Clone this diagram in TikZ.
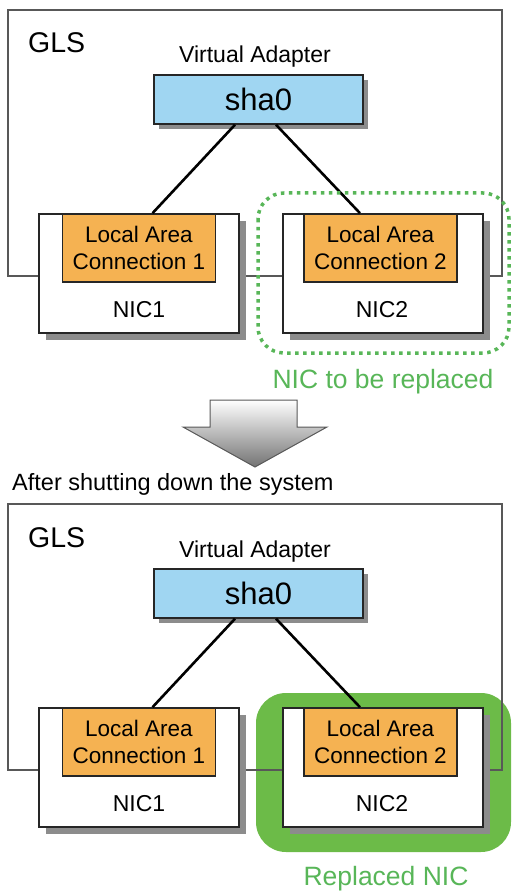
\documentclass[tikz,border=0pt]{standalone}
\usepackage{fontspec}
\setmainfont{Liberation Sans}
\usepackage{xcolor}
\usetikzlibrary{calc,positioning,shadows}
\definecolor{vablue}{RGB}{160,214,242}
\definecolor{lacorange}{RGB}{245,178,82}
\definecolor{nicgreen}{RGB}{108,187,72}
\definecolor{txtgreen}{RGB}{88,182,88}
\definecolor{boxgray}{RGB}{88,88,88}
\definecolor{shadowgray}{RGB}{140,140,140}
\newcommand{\fs}[1]{\fontsize{#1}{#1}\selectfont}

\tikzset{
  glsbox/.style={draw=boxgray,line width=1.5pt},
  vabox/.style={draw=black!85,line width=1.5pt,fill=vablue,minimum width=209pt,minimum height=49pt,inner sep=0pt,font=\fs{31},
    drop shadow={shadow xshift=5pt,shadow yshift=-5pt,fill=shadowgray,opacity=1}},
  nicbox/.style={draw=black!85,line width=1.6pt,fill=white,minimum width=200pt,minimum height=119pt,inner sep=0pt,
    drop shadow={shadow xshift=7pt,shadow yshift=-7pt,fill=shadowgray,opacity=1}},
  lacbox/.style={draw=black!85,line width=1.4pt,fill=lacorange,minimum width=153pt,minimum height=68pt,inner sep=0pt,
    align=center,font=\fontsize{22.5}{27}\selectfont},
  link/.style={line width=2.6pt},
  lbl/.style={inner sep=0pt,anchor=base}
}

\begin{document}
\begin{tikzpicture}[x=1pt,y=-1pt]
\useasboundingbox (0,0) rectangle (512,893);

% replaced NIC, drawn below the boxes
\fill[nicgreen,rounded corners=30pt] (256,693) rectangle (511,852);

\foreach \p/\dy in {a/0,b/494}{
\begin{scope}[yshift=-\dy pt]
\draw[glsbox] (8,10) rectangle (502,276);
\node[lbl,anchor=base west,font=\fs{28.5}] (gls\p) at (28,53) {GLS};
\node[lbl,font=\fs{23}] (vatext\p) at (255,63) {Virtual Adapter};
\node[vabox] (sha\p) at (258.5,99.5) {sha0};
% NICs
\node[nicbox] (nicA\p) at (139,273.5) {};
\node[nicbox] (nicB\p) at (383,273.5) {};
\node[lacbox,anchor=north] (lacA\p) at (nicA\p.north) {Local Area\\Connection 1};
\node[lacbox,anchor=north] (lacB\p) at ([xshift=-2.5pt]nicB\p.north) {Local Area\\Connection 2};
\node[lbl,font=\fs{23}] (nicAtext\p) at (139,317) {NIC1};
\node[lbl,font=\fs{23}] (nicBtext\p) at (382,317) {NIC2};
\draw[link] ([xshift=-23.5pt]sha\p.south) -- ([xshift=13.5pt]lacA\p.north);
\draw[link] ([xshift=17.5pt]sha\p.south) -- ([xshift=-20.5pt]lacB\p.north);
\end{scope}
}

% NIC to be replaced
\draw[txtgreen,line width=3.5pt,dash pattern=on 3.5pt off 4.5pt,rounded corners=26pt] (258,193) rectangle (509,353);
\node[lbl,txtgreen,font=\fs{26.5}] (oldnic) at (383,388) {NIC to be replaced};

% step arrow
\shade[top color=white,bottom color=black!55,draw=boxgray,line width=1pt]
  (210,400) -- (297,400) -- (297,427) -- (327,427) -- (255,467) -- (183,427) -- (210,427) -- cycle;
\node[lbl,anchor=base west,font=\fs{23.5}] (after) at (12,490) {After shutting down the system};

\node[lbl,txtgreen,font=\fs{26.5}] (newnic) at (386,885) {Replaced NIC};
\end{tikzpicture}
\end{document}
